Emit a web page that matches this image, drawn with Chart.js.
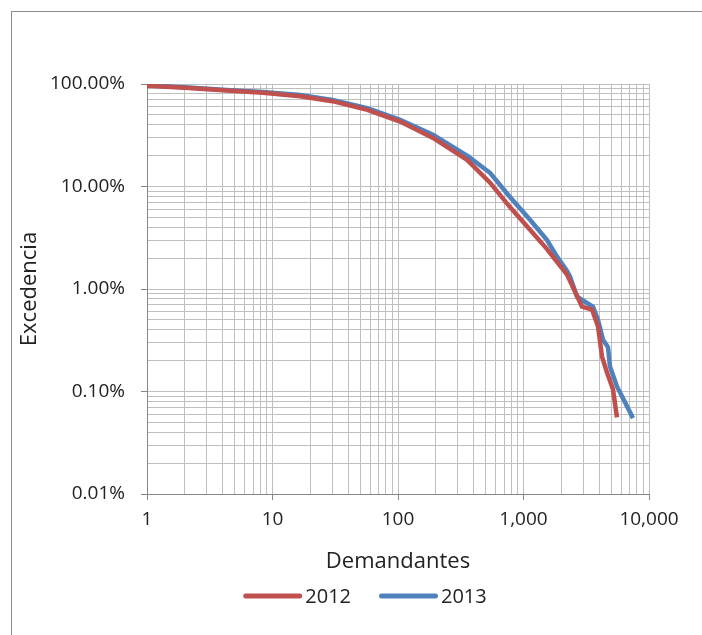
<!DOCTYPE html>
<html><head><meta charset="utf-8">
<script src="https://cdn.jsdelivr.net/npm/chart.js@4"></script>
<style>html,body{margin:0;padding:0;background:#fff;overflow:hidden}</style>
</head><body>
<canvas id="c" width="702" height="635"></canvas>
<script>
// ---- data ----
const seriesNames = ['2012', '2013'];
const x2012 = [1, 2, 4, 8.4, 16.6, 30, 57, 104, 190, 355, 541, 780, 1127, 1539, 2222, 2925, 3514, 3925, 4220, 4627, 5165, 5555];
const y2012 = [96, 92, 87, 82, 76, 68, 56, 43, 29.8, 18.2, 10.9, 6.3, 3.79, 2.45, 1.38, 0.674, 0.63, 0.43, 0.22, 0.153, 0.105, 0.056];
const x2013 = [1, 2, 4, 8.4, 16.6, 30, 57, 104, 190, 360, 541, 780, 1127, 1539, 1849, 2222, 2350, 2670, 3580, 3925, 4300, 4713, 4887, 5555, 7460];
const y2013 = [97, 93, 88, 83.6, 78, 70, 58, 44.6, 31.9, 19.8, 13.6, 7.9, 4.74, 3.0, 2.07, 1.5, 1.32, 0.84, 0.67, 0.50, 0.32, 0.27, 0.175, 0.112, 0.055];
const xMajor = [1, 10, 100, 1000, 10000];
const xTickLabels = ['1', '10', '100', '1,000', '10,000'];
const yMajor = [0.01, 0.1, 1, 10, 100];
const yTickLabels = ['0.01%', '0.10%', '1.00%', '10.00%', '100.00%'];
const xTitle = 'Demandantes';
const yTitle = 'Excedencia';
const colors = ['#C0504D', '#4F81BD'];

function pts(xs, ys) { return xs.map((x, i) => ({x: x, y: ys[i]})); }
function allTicks(majors) {
  const t = [];
  for (let i = 0; i < majors.length; i++) {
    t.push({value: majors[i], major: true});
    if (i < majors.length - 1) for (let m = 2; m <= 9; m++) t.push({value: majors[i] * m, major: false});
  }
  return t;
}
function isMajor(list, v) { return list.some(m => Math.abs(v / m - 1) < 1e-6); }

const FONT = '"Open Sans", sans-serif';
const GRID = '#BFBFBF';
const AXIS = '#868686';
const TEXT = '#222222';

const framePlugin = {
  id: 'frame',
  beforeDraw(chart) {
    const ctx = chart.ctx;
    ctx.save();
    ctx.fillStyle = '#fff';
    ctx.fillRect(0, 0, chart.width, chart.height);
    ctx.strokeStyle = '#8c8c8c';
    ctx.lineWidth = 1;
    ctx.strokeRect(11.5, 11.5, 760, 700);
    ctx.restore();
  }
};

const legendPlugin = {
  id: 'xlLegend',
  afterDraw(chart) {
    const ctx = chart.ctx;
    ctx.save();
    ctx.font = '20px ' + FONT;
    ctx.textBaseline = 'middle';
    const lineW = 59, gapT = 3, gapItem = 28;
    const items = chart.data.datasets.map(d => ({label: d.label, color: d.borderColor, w: ctx.measureText(d.label).width}));
    let total = 0;
    items.forEach((it, i) => { total += lineW + gapT + it.w + (i ? gapItem : 0); });
    let x = 365 - total / 2;
    const y = 596;
    items.forEach(it => {
      ctx.strokeStyle = it.color;
      ctx.lineWidth = 5;
      ctx.lineCap = 'round';
      ctx.beginPath();
      ctx.moveTo(x + 2.5, y);
      ctx.lineTo(x + lineW - 2.5, y);
      ctx.stroke();
      ctx.fillStyle = TEXT;
      ctx.fillText(it.label, x + lineW + gapT, y + 1);
      x += lineW + gapT + it.w + gapItem;
    });
    ctx.restore();
  }
};

new Chart(document.getElementById('c'), {
  type: 'scatter',
  data: {
    datasets: [
      {label: seriesNames[0], data: pts(x2012, y2012), borderColor: colors[0], backgroundColor: colors[0], showLine: true, borderWidth: 4.5, pointRadius: 0, tension: 0},
      {label: seriesNames[1], data: pts(x2013, y2013), borderColor: colors[1], backgroundColor: colors[1], showLine: true, borderWidth: 4.5, pointRadius: 0, tension: 0}
    ]
  },
  options: {
    responsive: false,
    animation: false,
    layout: {padding: {left: 17, top: 84, right: 0, bottom: 56}},
    plugins: {legend: {display: false}, tooltip: {enabled: false}},
    scales: {
      x: {
        type: 'logarithmic', min: 1, max: 10000,
        afterBuildTicks: s => { s.ticks = allTicks(xMajor); },
        afterFit: s => { s.height = 85; s.paddingRight = 53; },
        ticks: {
          autoSkip: false, maxRotation: 0, padding: 8, color: TEXT, font: {family: FONT, size: 19},
          callback: v => { const i = xMajor.findIndex(m => Math.abs(v / m - 1) < 1e-6); return i >= 0 ? xTickLabels[i] : ''; }
        },
        grid: {color: GRID, lineWidth: 1, tickLength: 6, tickColor: c => (c.tick && isMajor(xMajor, c.tick.value)) ? AXIS : 'rgba(0,0,0,0)'},
        border: {color: AXIS, width: 1},
        title: {display: true, text: xTitle, color: TEXT, font: {family: FONT, size: 22}, padding: {top: 0, bottom: 4}}
      },
      y: {
        type: 'logarithmic', min: 0.01, max: 100,
        afterBuildTicks: s => { s.ticks = allTicks(yMajor); },
        afterFit: s => { s.width = 130; },
        ticks: {
          autoSkip: false, padding: 16, color: TEXT, font: {family: FONT, size: 19},
          callback: v => { const i = yMajor.findIndex(m => Math.abs(v / m - 1) < 1e-6); return i >= 0 ? yTickLabels[i] : ''; }
        },
        grid: {color: GRID, lineWidth: 1, tickLength: 6, tickColor: c => (c.tick && isMajor(yMajor, c.tick.value)) ? AXIS : 'rgba(0,0,0,0)'},
        border: {color: AXIS, width: 1},
        title: {display: true, text: yTitle, color: TEXT, font: {family: FONT, size: 22}, padding: {top: 0, bottom: 0}}
      }
    }
  },
  plugins: [framePlugin, legendPlugin]
});
</script>
</body></html>
